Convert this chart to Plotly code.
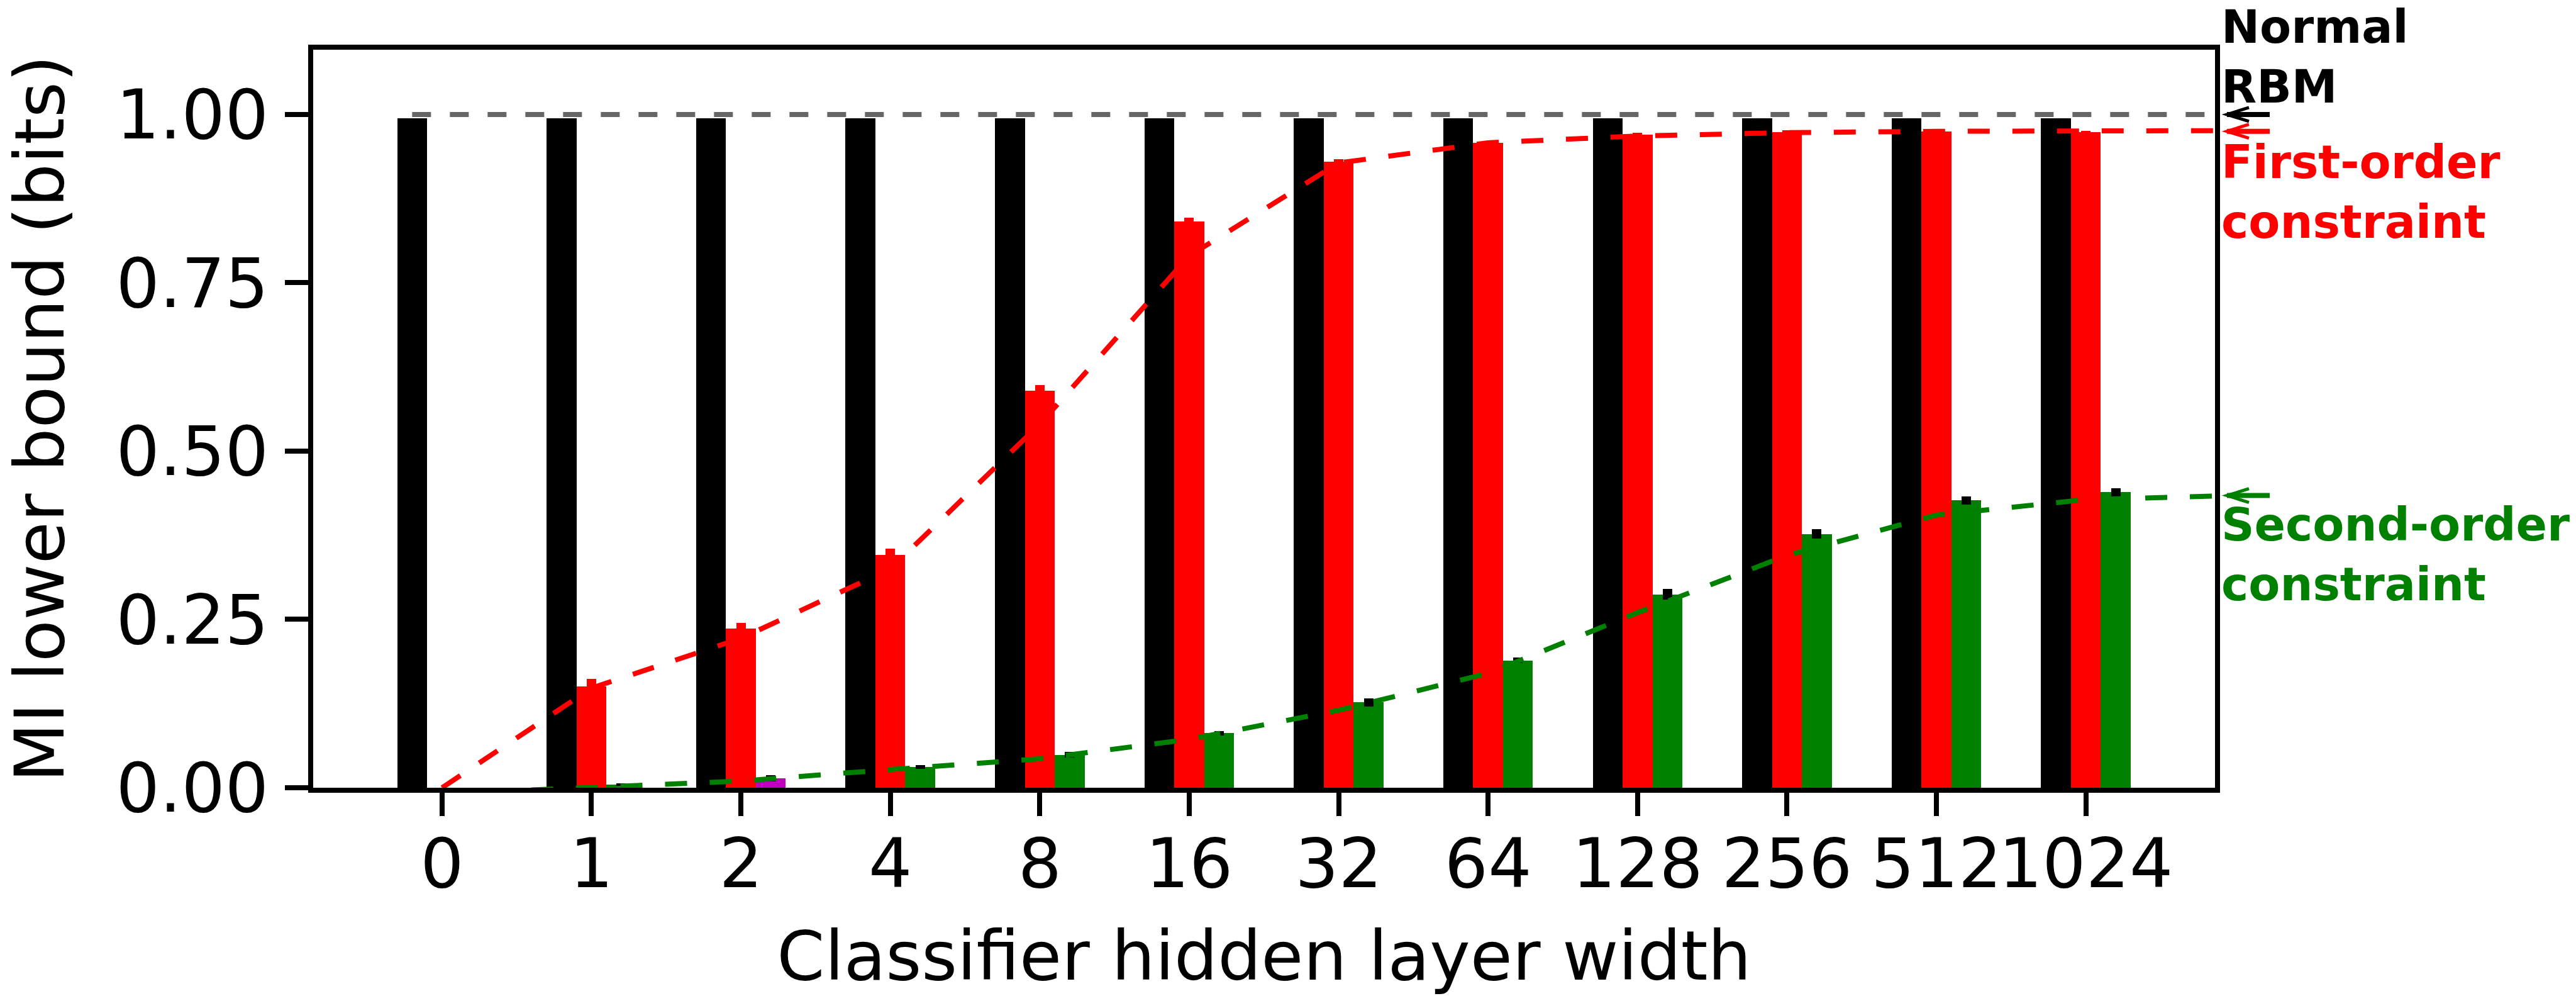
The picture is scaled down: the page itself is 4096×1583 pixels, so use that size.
import plotly.graph_objects as go

# Classifier hidden layer widths (categorical x positions 0..11)
widths = ["0", "1", "2", "4", "8", "16", "32", "64", "128", "256", "512", "1024"]

# MI lower bound (bits) per condition
rbm_mi = [0.994, 0.994, 0.994, 0.994, 0.994, 0.994, 0.994, 0.994, 0.994, 0.994, 0.994, 0.994]
first_mi = [0.0, 0.150, 0.236, 0.346, 0.590, 0.841, 0.930, 0.958, 0.970, 0.974, 0.975, 0.974]
first_err = [0.0, 0.012, 0.009, 0.009, 0.008, 0.006, 0.004, 0.003, 0.003, 0.003, 0.002, 0.002]
second_mi = [0.0, 0.005, 0.014, 0.031, 0.049, 0.081, 0.127, 0.189, 0.287, 0.377, 0.427, 0.439]
second_err = [0.0, 0.002, 0.005, 0.003, 0.004, 0.003, 0.006, 0.004, 0.008, 0.007, 0.006, 0.006]
second_colors = ["green", "green", "#bf00bf", "green", "green", "green",
                 "green", "green", "green", "green", "green", "green"]

# Reference curves (dashed), sampled at each width and past the right edge
curve_x = [0, 1, 2, 3, 4, 5, 6, 7, 8, 9, 10, 11, 12]
first_curve = [0.0, 0.148, 0.222, 0.325, 0.540, 0.790, 0.928, 0.958, 0.968, 0.973, 0.975, 0.976, 0.976]
second_curve = [-0.009, 0.0, 0.010, 0.027, 0.043, 0.072, 0.115, 0.170, 0.260, 0.345, 0.405, 0.428, 0.434]
rbm_line_x = [-0.2, 12]
rbm_line = [1.0, 1.0]

y_ticks = [0.0, 0.25, 0.5, 0.75, 1.0]
y_tick_text = ["0.00", "0.25", "0.50", "0.75", "1.00"]

# ---- geometry -------------------------------------------------------------
W, H = 4096, 1583
ML, MR, MT, MB = 498, 574, 79, 331
PW = W - ML - MR
X_RANGE = [-0.862, 11.864]
Y_RANGE = [0.0, 1.0962]
BW = 0.2
FONT = "DejaVu Sans"


def xpaper(px):
    return (px - ML) / PW


idx = list(range(len(widths)))

fig = go.Figure()

fig.add_trace(go.Bar(
    x=[i - BW for i in idx], y=rbm_mi, width=BW,
    marker=dict(color="black", line=dict(width=0)),
    name="Normal RBM", showlegend=False,
))
fig.add_trace(go.Bar(
    x=idx, y=first_mi, width=BW,
    marker=dict(color="#ff0000", line=dict(width=0)),
    error_y=dict(type="data", array=first_err, visible=True,
                 color="#ff0000", thickness=15, width=0),
    name="First-order constraint", showlegend=False,
))
fig.add_trace(go.Bar(
    x=[i + BW for i in idx], y=second_mi, width=BW,
    marker=dict(color=second_colors, line=dict(width=0)),
    error_y=dict(type="data", array=second_err, visible=True,
                 color="black", thickness=15, width=0),
    name="Second-order constraint", showlegend=False,
))

fig.add_trace(go.Scatter(
    x=rbm_line_x, y=rbm_line, mode="lines",
    line=dict(color="#666666", width=8, dash="30px,30px"),
    showlegend=False,
))
fig.add_trace(go.Scatter(
    x=curve_x, y=first_curve, mode="lines",
    line=dict(color="#ff0000", width=8, dash="35px,36px"),
    showlegend=False,
))
fig.add_trace(go.Scatter(
    x=curve_x, y=second_curve, mode="lines",
    line=dict(color="green", width=8, dash="35px,36px"),
    showlegend=False,
))

# ---- arrows and labels on the right side ---------------------------------
tip_px, tail_px = 3541, 3609
barb_dx = 35
barb_dy = 11 / 1074.0
shapes = []
for yv, col in [(1.0, "black"), (0.975, "#ff0000"), (0.434, "green")]:
    shapes.append(dict(
        type="line", xref="paper", yref="y",
        x0=xpaper(tip_px), x1=xpaper(tail_px), y0=yv, y1=yv,
        line=dict(color=col, width=8),
    ))
    shapes.append(dict(
        type="path", xref="paper", yref="y",
        path=(f"M {xpaper(tip_px + barb_dx)} {yv + barb_dy} "
              f"L {xpaper(tip_px)} {yv} "
              f"L {xpaper(tip_px + barb_dx)} {yv - barb_dy}"),
        line=dict(color=col, width=5),
    ))

labels = [
    ("Normal<br>RBM", "black", 1.086),
    ("First-order<br>constraint", "#ff0000", 0.885),
    ("Second-order<br>constraint", "green", 0.347),
]
annotations = []
for txt, col, yv in labels:
    annotations.append(dict(
        text=f"<b>{txt}</b>", xref="paper", yref="y",
        x=xpaper(3531), y=yv, xanchor="left", yanchor="middle",
        align="left", showarrow=False, borderpad=0,
        font=dict(family=FONT, size=73, color=col),
    ))

fig.update_layout(
    width=W, height=H,
    margin=dict(l=ML, r=MR, t=MT, b=MB, pad=0, autoexpand=False),
    paper_bgcolor="white", plot_bgcolor="white",
    barmode="overlay", bargap=0,
    showlegend=False,
    shapes=shapes, annotations=annotations,
    font=dict(family=FONT, color="black"),
)

fig.update_xaxes(
    range=X_RANGE, tickmode="array", tickvals=idx, ticktext=widths,
    tickangle=0, showgrid=False, zeroline=False, automargin=False,
    showline=True, linecolor="black", linewidth=8, mirror=True,
    ticks="outside", ticklen=37, tickwidth=8, tickcolor="black",
    tickfont=dict(family=FONT, size=109, color="black"),
    ticklabelstandoff=-18,
    title=dict(text="Classifier hidden layer width",
               font=dict(family=FONT, size=109, color="black"), standoff=62),
)
fig.update_yaxes(
    range=Y_RANGE, tickmode="array", tickvals=y_ticks, ticktext=y_tick_text,
    showgrid=False, zeroline=False, automargin=False,
    showline=True, linecolor="black", linewidth=8, mirror=True,
    ticks="outside", ticklen=37, tickwidth=8, tickcolor="black",
    tickfont=dict(family=FONT, size=109, color="black"),
    ticklabelstandoff=4,
    title=dict(text="MI lower bound (bits)",
               font=dict(family=FONT, size=109, color="black"), standoff=64),
)

fig.write_html("out.html")
